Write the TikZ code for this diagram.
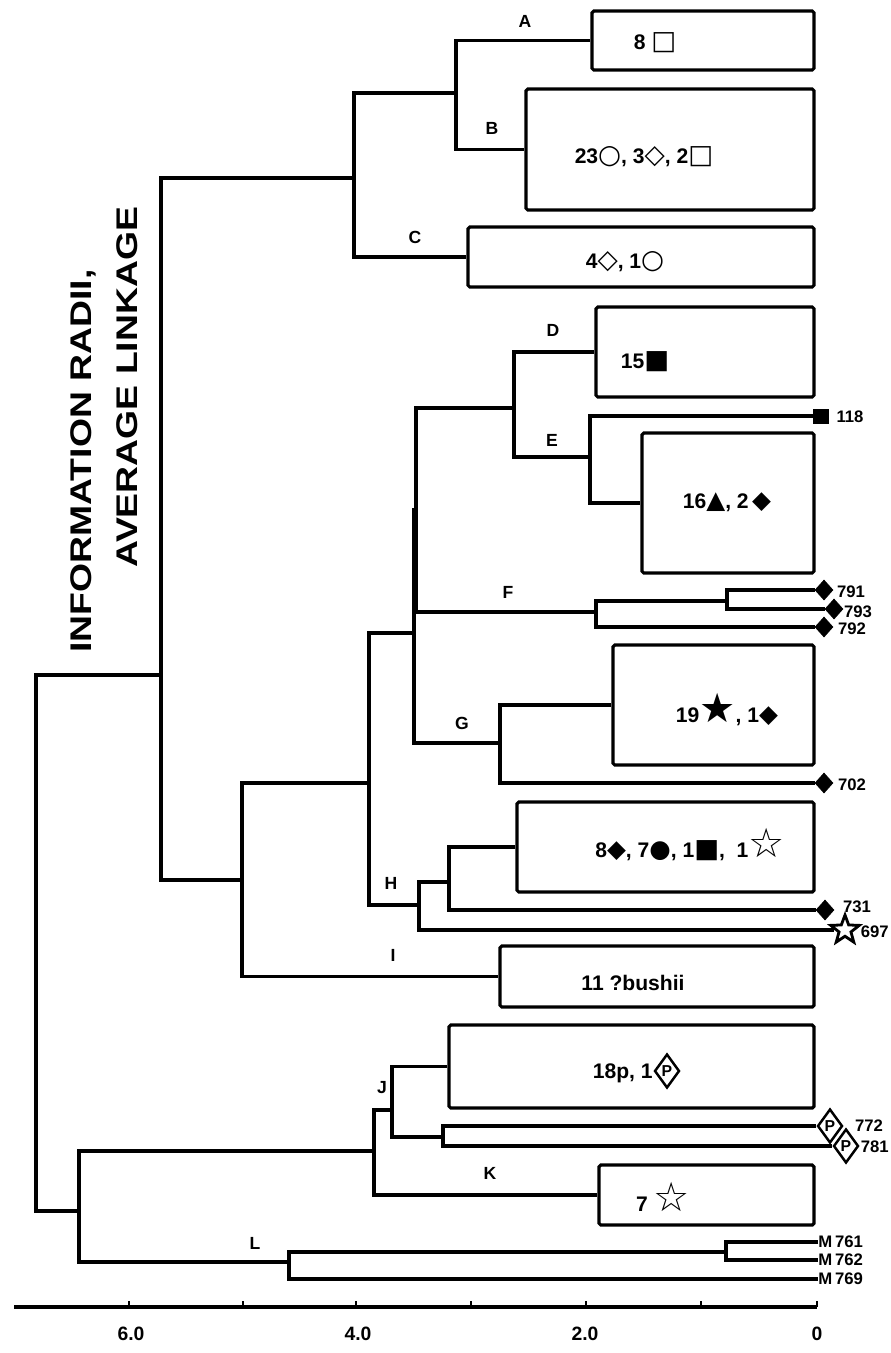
\documentclass[tikz,border=0pt]{standalone}
\usepackage{fontspec}
\setmainfont{Liberation Sans}
\newfontfamily\symf{DejaVu Sans}
\usetikzlibrary{shapes.geometric,fit}
\newcommand\sy[2]{{\symf\fontsize{#1}{#1}\selectfont#2}}
\newcommand\SymOsq{\sy{15}{□}}
\newcommand\SymOci{\sy{15}{○}}
\newcommand\SymOdi{\sy{15}{◇}}
\newcommand\SymFsq{\sy{15}{■}}
\newcommand\SymFtr{\sy{14}{▲}}
\newcommand\SymFdi{\sy{14}{◆}}
\newcommand\SymFst{\sy{23}{★}}
\newcommand\SymFci{\sy{14}{●}}
\newcommand\SymOst{\sy{23}{☆}}
\begin{document}
\begin{tikzpicture}[x=0.02cm,y=-0.02cm,
  link/.style={line width=1.8pt},
  box/.style={draw, line width=1.8pt, rounded corners=1pt, inner sep=0pt},
  btxt/.style={font=\bfseries\fontsize{12}{12}\selectfont, inner sep=0pt},
  clab/.style={font=\bfseries\fontsize{10}{10}\selectfont, inner sep=0pt},
  leaf/.style={font=\bfseries\fontsize{9.5}{9.5}\selectfont, inner sep=0pt},
  mlbl/.style={font=\bfseries\fontsize{9.5}{9.5}\selectfont, inner sep=0pt, anchor=west},
  axl/.style={font=\bfseries\fontsize{11}{11}\selectfont, inner sep=0pt},
  ttl/.style={font=\bfseries\fontsize{17}{17}\selectfont, inner sep=0pt, rotate=90},
  fdia/.style={diamond, fill=black, draw=black, inner sep=0pt, minimum width=0.36cm, minimum height=0.4cm},
  fsqm/.style={rectangle, fill=black, inner sep=0pt, minimum width=0.32cm, minimum height=0.3cm},
  ostar/.style={star, star points=5, star point ratio=2.4, draw, line width=1.6pt, inner sep=0pt, minimum size=0.6cm},
  pdia/.style={diamond, draw, line width=1.4pt, inner sep=0pt, minimum width=0.5cm, minimum height=0.68cm, font=\bfseries\fontsize{9}{9}\selectfont}
]
\useasboundingbox (0,0) rectangle (890,1353);
\fill[white] (0,0) rectangle (890,1353);

% title
\node[ttl] (title1) at (83,461) {\scalebox{1.25}[1]{INFORMATION RADII,}};
\node[ttl] (title2) at (127,387) {\scalebox{1.25}[1]{AVERAGE LINKAGE}};

% boxes
\node[box, fit={(592,11) (814,70)}] (A) {};
\node[box, fit={(526,89) (814,210)}] (B) {};
\node[box, fit={(468,227) (814,287)}] (C) {};
\node[box, fit={(596,307) (814,397)}] (D) {};
\node[box, fit={(642,433) (814,573)}] (E) {};
\node[box, fit={(613,645) (814,765)}] (G) {};
\node[box, fit={(517,802) (814,892)}] (H) {};
\node[box, fit={(500,946) (814,1007)}] (I) {};
\node[box, fit={(449,1025) (814,1108)}] (J) {};
\node[box, fit={(599,1165) (814,1225)}] (K) {};

% box texts
\node[btxt] (tA) at (655,43) {8 \SymOsq};
\node[btxt] (tB) at (644,157) {23\SymOci, 3\SymOdi, 2\SymOsq};
\node[btxt] (tC) at (625,262) {4\SymOdi, 1\SymOci};
\node[btxt] (tD) at (645,362) {15\SymFsq};
\node[btxt] (tE) at (727,502) {16\SymFtr, 2\,\SymFdi};
\node[btxt] (tG) at (727,710) {19\SymFst, 1\SymFdi};
\node[btxt] (tH) at (690,845) {8\SymFdi, 7\SymFci, 1\SymFsq, \ 1\SymOst};
\node[btxt] (tI) at (633,983) {11 ?bushii};
\node[btxt, anchor=east] (tJ) at (653,1073) {18p, 1};
\node[pdia] (tJp) at (667,1071) {P};
\node[btxt] (tK) at (663,1197) {7 \SymOst};

% cluster labels
\node[clab] (lA) at (525,21) {A};
\node[clab] (lB) at (492,128) {B};
\node[clab] (lC) at (415,237) {C};
\node[clab] (lD) at (553,330) {D};
\node[clab] (lE) at (552,440) {E};
\node[clab] (lF) at (508,592) {F};
\node[clab] (lG) at (462,723) {G};
\node[clab] (lH) at (391,883) {H};
\node[clab] (lI) at (393,955) {I};
\node[clab] (lJ) at (382,1088) {J};
\node[clab] (lK) at (490,1173) {K};
\node[clab] (lL) at (255,1243) {L};

% leaf markers
\node[fsqm] (n118) at (821,416) {};
\node[fdia] (n791) at (824,590) {};
\node[fdia] (n793) at (834,609) {};
\node[fdia] (n792) at (824,627) {};
\node[fdia] (n702) at (824,783) {};
\node[fdia] (n731) at (825,910) {};
\node[ostar] (n697) at (845,930) {};
\node[pdia] (n772) at (830,1126) {P};
\node[pdia] (n781) at (846,1146) {P};
\node[mlbl] (m761) at (818,1242) {M\,761};
\node[mlbl] (m762) at (818,1260) {M\,762};
\node[mlbl] (m769) at (818,1279) {M\,769};

% leaf labels
\node[leaf] (l118) at (850,417) {118};
\node[leaf] (l791) at (851,592) {791};
\node[leaf] (l793) at (858,612) {793};
\node[leaf] (l792) at (852,629) {792};
\node[leaf] (l702) at (852,785) {702};
\node[leaf] (l731) at (857,907) {731};
\node[leaf, anchor=east] (l697) at (889,932) {697};
\node[leaf] (l772) at (869,1126) {772};
\node[leaf, anchor=east] (l781) at (889,1147) {781};

% join points
\coordinate (jAB) at (456,93);
\coordinate (jABC) at (354,178);
\coordinate (jTop) at (161,675);
\coordinate (jDE) at (514,408);
\coordinate (jE) at (590,457);
\coordinate (jF79) at (727,601);
\coordinate (jF) at (596,612);
\coordinate (jDEF) at (416,510);
\coordinate (jDEFG) at (414,633);
\coordinate (jG) at (500,743);
\coordinate (jH1) at (449,882);
\coordinate (jH) at (419,905);
\coordinate (jDH) at (369,783);
\coordinate (jDI) at (242,880);
\coordinate (jJ2) at (443,1137);
\coordinate (jJ) at (392,1110);
\coordinate (jJK) at (374,1151);
\coordinate (jM12) at (726,1252);
\coordinate (jL) at (289,1262);
\coordinate (jJL) at (79,1211);
\coordinate (root) at (36,900);

% connectors
\draw[link] (A) -| (jAB) |- (B);
\draw[link] (jAB) -| (jABC) |- (C);
\draw[link] (n118) -| (jE) |- (E);
\draw[link] (D) -| (jDE) |- (jE);
\draw[link] (n791) -| (jF79) |- (n793);
\draw[link] (jF79) -| (jF) |- (n792);
\draw[link] (jDE) -| (jDEF) |- (jF);
\draw[link] (G) -| (jG) |- (n702);
\draw[link] (jDEF) -| (jDEFG) |- (jG);
\draw[link] (H) -| (jH1) |- (n731);
\draw[link] (jH1) -| (jH) |- (n697);
\draw[link] (jDEFG) -| (jDH) |- (jH);
\draw[link] (jDH) -| (jDI) |- (I);
\draw[link] (jABC) -| (jTop) |- (jDI);
\draw[link] (n772) -| (jJ2) |- (n781);
\draw[link] (J) -| (jJ) |- (jJ2);
\draw[link] (jJ) -| (jJK) |- (K);
\draw[link] (m761) -| (jM12) |- (m762);
\draw[link] (jM12) -| (jL) |- (m769);
\draw[link] (jJK) -| (jJL) |- (jL);
\draw[link] (jTop) -| (root) |- (jJL);

% axis
\coordinate (ax0) at (14,1307);
\coordinate (ax1) at (817,1307);
\draw[line width=2pt] (ax0) -- (ax1);
\foreach \x in {129,243,356,471,586,701,817} \draw[line width=1.5pt] (\x,1307) -- (\x,1301);
\node[axl] (a6) at (131,1334) {6.0};
\node[axl] (a4) at (358,1334) {4.0};
\node[axl] (a2) at (585,1334) {2.0};
\node[axl] (a0) at (817,1334) {0};
\end{tikzpicture}
\end{document}
